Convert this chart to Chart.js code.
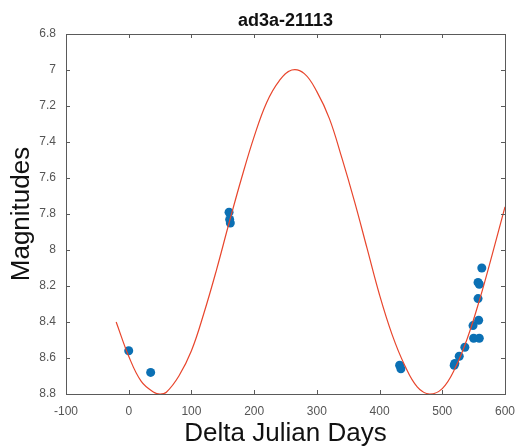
<!DOCTYPE html>
<html>
<head>
<meta charset="utf-8">
<script src="https://cdn.jsdelivr.net/npm/chart.js@4.4.1/dist/chart.umd.min.js"></script>
<style>
  html, body { margin: 0; padding: 0; background: #fff; }
  #wrap { width: 517px; height: 447px; }
</style>
</head>
<body>
<div id="wrap"><canvas id="lc"></canvas></div>
<script>
const obsDays = [0, 35, 160, 161, 162, 432, 434, 519, 520, 527, 536, 549, 550, 558, 557, 557, 559, 559, 563];
const obsMags = [8.56, 8.68, 7.79, 7.83, 7.85, 8.64, 8.66, 8.64, 8.63, 8.59, 8.54, 8.42, 8.49, 8.39, 8.27, 8.18, 8.19, 8.49, 8.10];

// Fitted curve
const fitDays = [-20, 0, 20, 40, 50, 60, 80, 100, 120, 140, 160, 180, 200, 220, 240, 260, 280, 300,
                 320, 340, 360, 380, 400, 420, 440, 460, 480, 500, 520, 540, 560, 580, 600];
const fitMags = [8.40, 8.59, 8.73, 8.79, 8.80, 8.79, 8.70, 8.56, 8.35, 8.11, 7.85, 7.60, 7.37, 7.18, 7.06, 7.00, 7.02, 7.12,
                 7.27, 7.49, 7.73, 7.99, 8.25, 8.47, 8.64, 8.76, 8.80, 8.77, 8.66, 8.49, 8.27, 8.02, 7.76];

const chartTitle = 'ad3a-21113';
const xLabel = 'Delta Julian Days';
const yLabel = 'Magnitudes';

const FONT = "'Liberation Sans', Arial, Helvetica, sans-serif";

// Box around the axes with inward tick marks on all sides
const boxPlugin = {
    id: 'matlabBox',
    afterDatasetsDraw(chart) {
        const { ctx, chartArea: a, scales } = chart;
        ctx.save();
        ctx.strokeStyle = '#5a5a5a';
        ctx.lineWidth = 1;
        ctx.strokeRect(a.left + 0.5, a.top + 0.5, a.right - a.left, a.bottom - a.top);
        const len = 4;
        ctx.beginPath();
        scales.x.ticks.forEach(t => {
            const px = Math.round(scales.x.getPixelForValue(t.value)) + 0.5;
            ctx.moveTo(px, a.bottom); ctx.lineTo(px, a.bottom - len);
            ctx.moveTo(px, a.top); ctx.lineTo(px, a.top + len);
        });
        scales.y.ticks.forEach(t => {
            const py = Math.round(scales.y.getPixelForValue(t.value)) + 0.5;
            ctx.moveTo(a.left, py); ctx.lineTo(a.left + len, py);
            ctx.moveTo(a.right, py); ctx.lineTo(a.right - len, py);
        });
        ctx.stroke();
        ctx.restore();
    }
};

new Chart(document.getElementById('lc'), {
    type: 'scatter',
    data: {
        datasets: [
            {
                label: 'fit',
                data: fitDays.map((d, i) => ({ x: d, y: fitMags[i] })),
                showLine: true,
                borderColor: '#e8452c',
                borderWidth: 1.2,
                pointRadius: 0,
                tension: 0.4,
                order: 0
            },
            {
                label: 'obs',
                data: obsDays.map((d, i) => ({ x: d, y: obsMags[i] })),
                showLine: false,
                pointRadius: 4.5,
                pointBackgroundColor: '#0b70b4',
                pointBorderColor: '#0b70b4',
                pointBorderWidth: 0,
                order: 1
            }
        ]
    },
    options: {
        responsive: true,
        maintainAspectRatio: false,
        animation: false,
        layout: { padding: { left: 0, right: 12, top: 0, bottom: 0 } },
        plugins: {
            legend: { display: false },
            tooltip: { enabled: false },
            title: {
                display: true,
                text: chartTitle,
                fullSize: false,
                color: '#111',
                font: { family: FONT, size: 18, weight: 'bold', lineHeight: 1.2 },
                padding: { top: 10, bottom: 2.4 }
            }
        },
        scales: {
            x: {
                type: 'linear',
                min: -100,
                max: 600,
                grid: { display: false, drawTicks: false },
                border: { display: false },
                ticks: {
                    stepSize: 100,
                    padding: 10,
                    color: '#555',
                    maxRotation: 0,
                    font: { family: FONT, size: 12 }
                },
                title: {
                    display: true,
                    text: xLabel,
                    color: '#111',
                    font: { family: FONT, size: 26, lineHeight: 1 },
                    padding: { top: 0, bottom: 0 }
                },
                afterFit(scale) {
                    scale.height = 53;
                    scale.paddingRight = 0;
                    scale.paddingLeft = 0;
                }
            },
            y: {
                type: 'linear',
                reverse: true,
                min: 6.8,
                max: 8.8,
                grid: { display: false, drawTicks: false },
                border: { display: false },
                ticks: {
                    stepSize: 0.2,
                    padding: 10,
                    color: '#555',
                    font: { family: FONT, size: 12 },
                    callback: v => String(Number(v.toFixed(1)))
                },
                title: {
                    display: true,
                    text: yLabel,
                    color: '#111',
                    font: { family: FONT, size: 26, lineHeight: 1 },
                    padding: { top: 9, bottom: 0 }
                },
                afterFit(scale) {
                    scale.width = 66;
                    scale.paddingTop = 0;
                    scale.paddingBottom = 0;
                }
            }
        }
    },
    plugins: [boxPlugin]
});
</script>
</body>
</html>
